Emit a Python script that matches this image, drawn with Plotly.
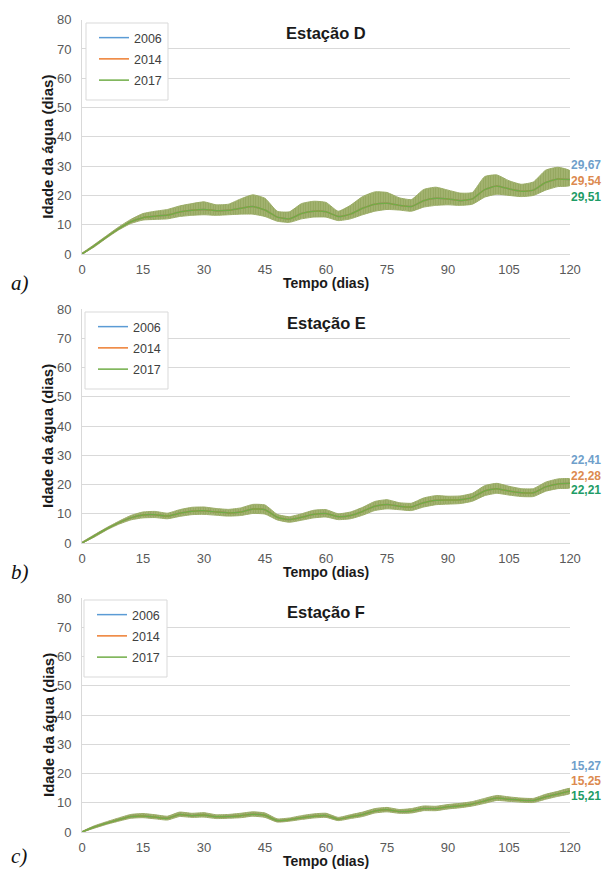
import plotly.graph_objects as go

# ---------------- data ----------------
days = [0, 3, 6, 9, 12, 15, 18, 21, 24, 27, 30, 33, 36, 39, 42, 45, 48, 51, 54, 57,
        60, 63, 66, 69, 72, 75, 78, 81, 84, 87, 90, 93, 96, 99, 102, 105, 108, 111,
        114, 117, 120]
years = ["2006", "2014", "2017"]
x_ticks = [0, 15, 30, 45, 60, 75, 90, 105, 120]
stations = ["Estação D", "Estação E", "Estação F"]
panel_tags = ["a)", "b)", "c)"]

# Station D (mean daily water age, and the envelope of the tidal oscillation)
d_mid = [0, 2.8, 5.8, 8.6, 11.0, 12.4, 12.9, 13.3, 14.3, 14.9, 15.2, 14.8, 14.9, 15.6, 16.2,
         15.0, 12.6, 12.0, 13.8, 14.6, 14.4, 12.8, 13.6, 15.6, 17.0, 17.3, 16.6, 16.2, 18.2,
         19.0, 18.8, 18.2, 18.8, 22.0, 23.2, 22.2, 21.4, 21.8, 24.4, 25.6, 25.4]
d_hi = [0.3, 3.2, 6.2, 9.2, 11.8, 13.8, 14.6, 15.2, 16.4, 17.2, 17.8, 16.8, 17.0, 18.8, 20.2,
        19.0, 14.6, 14.4, 17.2, 18.0, 17.6, 14.6, 16.6, 19.6, 21.2, 21.0, 19.2, 18.6, 22.0,
        22.8, 21.8, 20.8, 21.0, 26.4, 27.0, 25.0, 23.8, 24.6, 28.6, 29.6, 28.4]
d_lo = [0, 2.4, 5.4, 8.2, 10.4, 11.6, 11.8, 12.0, 12.8, 13.2, 13.4, 13.2, 13.4, 13.6, 13.6,
        12.8, 11.2, 10.8, 12.0, 12.6, 12.6, 11.4, 12.0, 13.4, 14.6, 15.2, 15.0, 14.6, 16.0,
        16.6, 16.8, 16.6, 17.0, 19.4, 20.4, 20.0, 19.6, 20.0, 21.8, 23.0, 23.4]
d_final = ["29,67", "29,54", "29,51"]

# Station E
e_mid = [0, 2.4, 4.8, 6.9, 8.6, 9.6, 9.7, 9.2, 10.2, 10.9, 11.0, 10.6, 10.3, 10.6, 11.6,
         11.4, 8.8, 8.0, 8.8, 9.8, 10.1, 9.0, 9.4, 10.8, 12.6, 13.2, 12.6, 12.3, 13.8,
         14.6, 14.7, 14.8, 15.6, 17.8, 18.6, 17.8, 17.2, 17.2, 19.2, 20.2, 20.4]
e_hi = [0.3, 2.8, 5.2, 7.4, 9.4, 10.6, 10.8, 10.2, 11.4, 12.2, 12.3, 11.8, 11.5, 12.0, 13.2,
        13.0, 9.8, 9.0, 10.0, 11.2, 11.4, 10.0, 10.6, 12.2, 14.2, 14.8, 13.8, 13.6, 15.4,
        16.2, 16.0, 16.1, 17.0, 19.6, 20.4, 19.4, 18.6, 18.6, 20.8, 21.9, 21.9]
e_lo = [0, 2.0, 4.4, 6.4, 7.9, 8.6, 8.7, 8.3, 9.1, 9.7, 9.8, 9.5, 9.2, 9.4, 10.1,
        9.9, 7.9, 7.1, 7.8, 8.6, 8.9, 8.0, 8.3, 9.5, 11.1, 11.7, 11.4, 11.1, 12.3,
        13.1, 13.3, 13.5, 14.3, 16.2, 17.0, 16.4, 15.9, 15.9, 17.7, 18.6, 18.9]
e_final = ["22,41", "22,28", "22,21"]

# Station F
f_mid = [0, 1.7, 3.0, 4.2, 5.3, 5.5, 5.1, 4.7, 6.0, 5.6, 5.8, 5.2, 5.3, 5.6, 6.1,
         5.7, 3.9, 4.2, 4.9, 5.4, 5.6, 4.4, 5.2, 6.0, 7.2, 7.6, 7.0, 7.2, 8.0,
         8.0, 8.6, 9.0, 9.6, 10.6, 11.6, 11.2, 10.9, 10.8, 12.0, 13.0, 14.0]
f_hi = [0.2, 2.1, 3.5, 4.8, 6.0, 6.3, 5.9, 5.4, 6.8, 6.4, 6.6, 5.9, 6.0, 6.4, 6.9,
        6.5, 4.5, 4.8, 5.6, 6.2, 6.4, 5.0, 5.9, 6.8, 8.0, 8.4, 7.7, 8.0, 8.9,
        8.8, 9.4, 9.8, 10.4, 11.5, 12.5, 12.0, 11.6, 11.5, 12.9, 13.9, 14.9]
f_lo = [0, 1.3, 2.6, 3.7, 4.7, 4.9, 4.5, 4.1, 5.3, 5.0, 5.1, 4.6, 4.7, 4.9, 5.4,
        5.0, 3.4, 3.7, 4.3, 4.8, 5.0, 3.9, 4.6, 5.3, 6.5, 6.9, 6.4, 6.5, 7.3,
        7.3, 7.9, 8.3, 8.9, 9.8, 10.8, 10.5, 10.2, 10.1, 11.2, 12.2, 13.2]
f_final = ["15,27", "15,25", "15,21"]

# ---------------- styling ----------------
W, H = 603, 870
line_colors = ["#5b9bd5", "#ed7d31", "#70ad47"]
label_colors = ["#6f9fcb", "#dc8a4f", "#1e9c66"]
band_fg = "#7b9443"
band_bg = "#a4b472"
grid = "#d9d9d9"
tick_col = "#595959"
FONT = "Liberation Sans, Arial, sans-serif"

# pixel layout of the three plot areas (top, bottom) and x extent
panels_px = [(19.5, 254), (309, 543), (598, 832)]
x_left, x_right = 82, 570
label_offsets = [(165, 181, 197), (460, 476, 490), (766, 781, 796)]
legend_boxes = [(86, 23, 168, 100), (85, 312, 168, 389), (84, 600, 167, 677)]

def px(v):
    return v / W

def py(v):
    return 1 - v / H

panel_data = [(d_mid, d_hi, d_lo, d_final), (e_mid, e_hi, e_lo, e_final),
              (f_mid, f_hi, f_lo, f_final)]

fig = go.Figure()
annotations = []
shapes = []
layout_axes = {}

for i, (mid, hi, lo, finals) in enumerate(panel_data):
    n = i + 1
    xa = "x" if n == 1 else f"x{n}"
    ya = "y" if n == 1 else f"y{n}"
    leg = "legend" if n == 1 else f"legend{n}"
    top, bot = panels_px[i]

    # tidal-oscillation envelope of the three simulations
    fig.add_trace(go.Scatter(
        x=days + days[::-1], y=hi + lo[::-1], fill="toself",
        fillcolor=band_bg,
        fillpattern=dict(shape="|", fgcolor=band_fg, bgcolor=band_bg, size=2.5, solidity=0.4),
        line=dict(color="#9aab66", width=1.0, shape="spline", smoothing=0.5),
        mode="lines", hoverinfo="skip", showlegend=False, xaxis=xa, yaxis=ya))
    for k, yr in enumerate(years):
        fig.add_trace(go.Scatter(
            x=days, y=mid, mode="lines", name=yr, legendgroup=f"p{n}_{yr}",
            line=dict(color=line_colors[k], width=1.5, shape="spline", smoothing=0.5),
            xaxis=xa, yaxis=ya, legend=leg))

    key_x = "xaxis" if n == 1 else f"xaxis{n}"
    key_y = "yaxis" if n == 1 else f"yaxis{n}"
    layout_axes[key_x] = dict(
        domain=[px(x_left), px(x_right)], anchor=ya, range=[0, 120],
        tickvals=x_ticks, showgrid=False, zeroline=False,
        showline=True, linecolor=grid, linewidth=1, ticks="",
        tickfont=dict(family=FONT, size=13, color=tick_col),
        ticklabelstandoff=3, automargin=False, fixedrange=True)
    layout_axes[key_y] = dict(
        domain=[py(bot), py(top)], anchor=xa, range=[0, 80.05], dtick=10, tick0=0,
        showgrid=True, gridcolor=grid, gridwidth=1, zeroline=False,
        showline=True, linecolor=grid, linewidth=1, ticks="",
        tickfont=dict(family=FONT, size=13, color=tick_col),
        ticklabelstandoff=7, automargin=False, fixedrange=True)

    bx0, by0, bx1, by1 = legend_boxes[i]
    shapes.append(dict(
        type="rect", xref="paper", yref="paper", layer="above",
        x0=px(bx0), x1=px(bx1), y0=py(by1), y1=py(by0),
        line=dict(color=grid, width=1), fillcolor="white"))
    layout_axes[leg] = dict(
        x=px(bx0 + 8), y=py(by0), xanchor="left", yanchor="top",
        bgcolor="rgba(0,0,0,0)", borderwidth=0,
        font=dict(family=FONT, size=12.5, color="#404040"),
        tracegroupgap=2, itemwidth=30, traceorder="grouped")

    # station title
    annotations.append(dict(
        text=f"<b>{stations[i]}</b>", x=px((x_left + x_right) / 2), y=py(top + 14),
        xref="paper", yref="paper", showarrow=False, xanchor="center", yanchor="middle",
        font=dict(family=FONT, size=16.5, color="#1a1a1a")))
    # y axis title
    annotations.append(dict(
        text="<b>Idade da água (dias)</b>", x=px(48), y=py((top + bot) / 2 + 10),
        xref="paper", yref="paper", showarrow=False, textangle=-90,
        xanchor="center", yanchor="middle",
        font=dict(family=FONT, size=15, color="#1a1a1a")))
    # x axis title
    annotations.append(dict(
        text="<b>Tempo (dias)</b>", x=px((x_left + x_right) / 2), y=py(bot + 29),
        xref="paper", yref="paper", showarrow=False, xanchor="center", yanchor="middle",
        font=dict(family=FONT, size=14, color="#1a1a1a")))
    # panel tag
    annotations.append(dict(
        text=f"<i>{panel_tags[i]}</i>", x=px(9), y=py(min(bot + 29, 856)),
        xref="paper", yref="paper", showarrow=False, xanchor="left", yanchor="middle",
        font=dict(family="Liberation Serif, Times New Roman, serif", size=21, color="#111111")))
    # final values
    for k, txt in enumerate(finals):
        annotations.append(dict(
            text=f"<b>{txt}</b>", x=px(569), y=py(label_offsets[i][k]),
            xref="paper", yref="paper", showarrow=False, xanchor="left", yanchor="middle",
            font=dict(family=FONT, size=12, color=label_colors[k])))

fig.update_layout(
    width=W, height=H, margin=dict(l=0, r=0, t=0, b=0),
    paper_bgcolor="white", plot_bgcolor="white",
    annotations=annotations, shapes=shapes, **layout_axes)

fig.write_html("out.html", config={"displayModeBar": False})

# remove the default page margin so the 603x870 figure fills the window exactly
with open("out.html", "r", encoding="utf-8") as fh:
    html = fh.read()
html = html.replace("<body>", '<body style="margin:0;overflow:hidden">', 1)
with open("out.html", "w", encoding="utf-8") as fh:
    fh.write(html)
